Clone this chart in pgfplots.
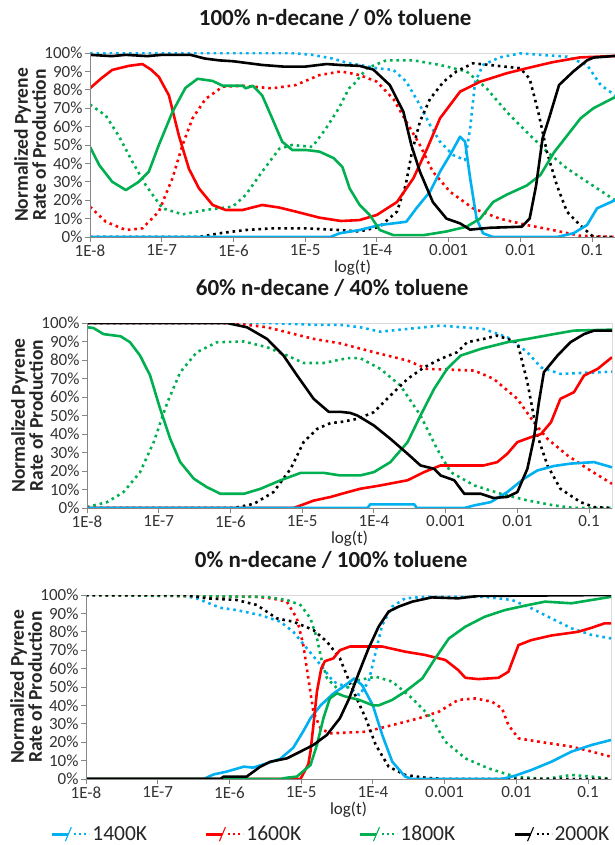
\documentclass[border=0pt]{standalone}
\usepackage{pgfplots}
\pgfplotsset{compat=1.18}
\usepackage{fontspec}
\setmainfont{Carlito}

\definecolor{c14}{RGB}{0,176,240}
\definecolor{c16}{RGB}{255,0,0}
\definecolor{c18}{RGB}{0,176,80}
\definecolor{c20}{RGB}{0,0,0}
\definecolor{axgray}{RGB}{134,134,134}
\definecolor{framegray}{RGB}{217,217,217}

\pgfplotsset{
  panel/.style={
    scale only axis, width=525pt, height=184pt,
    xmin=-8, xmax=-0.68, ymin=0, ymax=100,
    axis line style={framegray, line width=0.8pt},
    xtick={-8,-7,-6,-5,-4,-3,-2,-1},
    xticklabels={1E-8,1E-7,1E-6,1E-5,1E-4,0.001,0.01,0.1},
    ytick={0,10,20,30,40,50,60,70,80,90,100},
    yticklabels={0\%,10\%,20\%,30\%,40\%,50\%,60\%,70\%,80\%,90\%,100\%},
    xtick pos=lower, ytick pos=left,
    tick align=outside, major tick length=5pt,
    tick style={axgray, line width=0.8pt},
    tick label style={font=\fontsize{17}{17}\selectfont, text=black!80},
    xticklabel style={yshift=1pt},
    yticklabel style={xshift=1pt},
    ylabel={Normalized Pyrene\\Rate of Production},
    ylabel style={align=center, font=\bfseries\fontsize{19.5}{18}\selectfont,
      text=black!85, at={(axis description cs:-0.114,0.5)}, anchor=center},
    xlabel={log(t)},
    xlabel style={font=\fontsize{17}{17}\selectfont, text=black!85,
      at={(axis description cs:0.5,0)}, anchor=center, yshift=-31pt},
    title style={font=\bfseries\fontsize{23}{23}\selectfont, text=black!90,
      at={(axis description cs:0.467,1)}, anchor=center, yshift=29pt},
    after end axis/.code={
      \draw[axgray, line width=0.9pt] (rel axis cs:0,1) -- (rel axis cs:0,0) -- (rel axis cs:1,0);
    },
  },
  sol/.style={line width=2.6pt, line join=round, solid},
  dot/.style={line width=2.6pt, line join=round, dash pattern=on 2.6pt off 3.9pt},
}

\begin{document}
\begin{tikzpicture}
\useasboundingbox (0,0) rectangle (614pt,-845pt);

% ---------------- 100% n-decane / 0% toluene ----------------
\begin{axis}[panel, at={(90pt,-237pt)}, anchor=south west,
  title={100\% n-decane / 0\% toluene}]
\addplot[c14, dot] coordinates {(-8,100)(-5.2,100)(-4.9,99)(-4.62,97)(-4.39,94.4)(-4.24,93.5)(-4.0,91.7)(-3.77,90.8)(-3.59,84.4)(-3.40,71.7)(-3.26,60.9)(-3.12,51.8)(-2.94,44.6)(-2.77,41.8)(-2.70,59)(-2.63,84.4)(-2.52,93.5)(-2.29,97.6)(-2.0,99.8)(-1.72,99)(-1.35,98)(-1.07,93.5)(-0.88,82.6)(-0.68,77)};
\addplot[c16, dot] coordinates {(-8,16.5)(-7.78,8.3)(-7.50,3.8)(-7.27,4.7)(-7.04,13.8)(-6.85,32)(-6.71,50)(-6.57,64.5)(-6.39,75)(-6.15,81.7)(-5.87,82.2)(-5.46,80.8)(-5.13,82.6)(-4.80,88)(-4.5,90)(-4.24,88)(-4.0,84.4)(-3.77,75)(-3.59,62.7)(-3.40,50)(-3.22,35.5)(-2.98,24.6)(-2.66,15.6)(-2.29,10)(-1.91,6.5)(-1.55,3.8)(-1.17,0.7)(-0.68,0)};
\addplot[c18, dot] coordinates {(-8,72)(-7.78,66)(-7.60,55)(-7.41,41)(-7.22,28)(-6.99,15.6)(-6.71,12.3)(-6.39,14.7)(-6.01,16.5)(-5.83,22.8)(-5.60,35.5)(-5.36,48)(-5.18,50)(-4.90,49)(-4.71,59)(-4.53,70)(-4.39,80.8)(-4.33,82.6)(-4.14,91.7)(-3.87,96)(-3.49,96)(-3.12,93.5)(-2.75,90)(-2.47,80.8)(-2.19,68)(-1.91,57)(-1.63,46.4)(-1.35,37.3)(-1.07,30)(-0.68,20)};
\addplot[c20, dot] coordinates {(-8,0)(-6.48,0)(-6.20,2)(-5.83,3.8)(-5.46,4.7)(-4.99,4.7)(-4.53,3.8)(-4.24,3)(-3.96,5.6)(-3.72,13.8)(-3.60,28)(-3.51,46.4)(-3.40,62.7)(-3.26,75)(-3.07,84.4)(-2.89,90)(-2.66,94.4)(-2.43,93.5)(-2.0,91.7)(-1.87,86)(-1.75,68)(-1.63,46.4)(-1.49,28)(-1.35,13.8)(-1.17,6.5)(-0.98,0)(-0.68,0)};
\addplot[c14, sol] coordinates {(-8,0)(-4.65,0)(-4.52,2)(-4.24,3.8)(-3.96,6.5)(-3.77,7.4)(-3.59,8.3)(-3.45,15.6)(-3.26,24.6)(-3.12,35.5)(-2.98,44.6)(-2.84,54.5)(-2.77,51.8)(-2.70,32)(-2.61,10)(-2.52,2)(-2.38,0)(-1.49,0)(-1.26,2)(-1.07,6.5)(-0.93,15.6)(-0.68,20)};
\addplot[c16, sol] coordinates {(-8,80.8)(-7.85,86)(-7.69,90.8)(-7.46,93)(-7.27,94)(-7.15,91)(-7.04,87)(-6.90,77)(-6.76,55)(-6.62,37)(-6.48,26.4)(-6.29,17.4)(-6.11,14.7)(-5.87,14.7)(-5.60,17.4)(-5.36,16)(-5.13,13.8)(-4.80,10.5)(-4.5,8.7)(-4.24,9.2)(-4.0,12)(-3.72,19)(-3.49,32)(-3.30,48)(-3.12,64.5)(-2.84,79)(-2.56,84.4)(-2.19,89)(-1.91,91.7)(-1.55,95)(-1.17,97.6)(-0.68,98.4)};
\addplot[c18, sol] coordinates {(-8,49)(-7.87,39)(-7.69,30)(-7.50,25.5)(-7.32,30)(-7.18,35.5)(-7.04,50)(-6.85,68)(-6.67,81)(-6.50,86)(-6.29,84.8)(-6.15,82.2)(-5.87,82.2)(-5.83,80.8)(-5.73,82.2)(-5.60,77)(-5.46,64.5)(-5.32,51.8)(-5.18,47.3)(-4.99,47.3)(-4.80,46.4)(-4.60,42.8)(-4.48,38)(-4.38,26.4)(-4.24,17.4)(-4.10,12)(-3.96,3.8)(-3.77,1)(-3.35,1)(-3.03,3)(-2.75,5.6)(-2.56,10)(-2.38,19)(-2.19,23)(-1.91,28)(-1.72,33.7)(-1.53,46)(-1.35,55)(-1.16,64.5)(-0.98,70)(-0.68,76)};
\addplot[c20, sol] coordinates {(-8,99)(-7.7,98.3)(-7.5,99)(-7.2,98.3)(-7.0,99)(-6.6,99)(-6.4,97)(-6.2,96)(-6.0,95.5)(-5.6,93.5)(-5.3,92.6)(-5.0,92.6)(-4.7,94)(-4.52,93.5)(-4.24,93)(-4.05,91)(-3.82,82.6)(-3.63,68)(-3.52,50)(-3.40,35.5)(-3.22,19)(-3.03,10)(-2.84,7.4)(-2.70,4)(-2.43,5)(-1.98,5.6)(-1.87,10)(-1.78,28)(-1.69,53.6)(-1.60,64.5)(-1.46,82.6)(-1.26,90)(-1.07,96)(-0.98,97.5)(-0.68,98.4)};
\end{axis}

% ---------------- 60% n-decane / 40% toluene ----------------
\begin{axis}[panel, at={(87pt,-508pt)}, anchor=south west, height=185pt,
  title={60\% n-decane / 40\% toluene}]
\addplot[c14, dot] coordinates {(-8,100)(-5.5,100)(-4.8,99)(-4.47,99)(-4.19,97.7)(-3.91,95.3)(-3.53,96.8)(-3.07,98.6)(-2.47,96.8)(-2.14,92.3)(-1.86,84.2)(-1.67,76)(-1.40,72.5)(-0.68,73.7)};
\addplot[c16, dot] coordinates {(-8,100)(-6.05,100)(-5.77,99)(-5.49,97.7)(-5.21,95)(-4.84,91.4)(-4.47,89)(-4.0,84.2)(-3.53,79.7)(-3.26,75.2)(-2.60,74.3)(-2.33,69.8)(-2.0,59)(-1.77,46.4)(-1.58,37.4)(-1.30,28.4)(-1.02,21.2)(-0.68,13.1)};
\addplot[c18, dot] coordinates {(-8,0.5)(-7.72,3.2)(-7.49,8.6)(-7.26,19.4)(-7.07,35.6)(-6.88,57)(-6.70,73.4)(-6.47,84.2)(-6.19,89.6)(-5.81,90)(-5.49,86.9)(-5.21,82.4)(-4.98,78.4)(-4.70,78.4)(-4.37,81)(-4.19,81)(-3.91,75.2)(-3.63,66.2)(-3.35,50)(-3.12,32)(-2.93,19.4)(-2.60,12.2)(-2.23,7.7)(-1.86,4.1)(-1.49,1.4)(-1.21,0)(-0.68,0)};
\addplot[c20, dot] coordinates {(-8,0)(-5.95,0)(-5.67,2.3)(-5.40,8.6)(-5.16,21.2)(-4.98,35.6)(-4.79,42.8)(-4.60,46)(-4.47,46.4)(-4.23,48.2)(-4.0,51.8)(-3.77,60.8)(-3.53,69.8)(-3.30,76)(-3.07,80.6)(-2.84,84.2)(-2.70,89.6)(-2.47,91.4)(-2.28,93.2)(-2.0,89.6)(-1.86,68)(-1.72,39.2)(-1.58,23)(-1.40,10.4)(-1.12,3.2)(-0.93,0.5)(-0.68,0)};
\addplot[c16, sol] coordinates {(-8,0)(-5.12,0)(-5.02,1.4)(-4.84,4)(-4.60,6)(-4.40,8.2)(-4.19,10.4)(-3.91,12.2)(-3.53,15)(-3.30,19.4)(-3.07,23)(-2.47,23)(-2.28,24.8)(-2.14,29.3)(-2.0,35.6)(-1.81,38.3)(-1.67,40)(-1.53,46.4)(-1.40,59)(-1.21,62.6)(-1.07,71.6)(-0.88,75.2)(-0.68,81.5)};
\addplot[c14, sol] coordinates {(-8,0)(-4.09,0)(-4.05,2)(-3.44,2)(-3.40,0)(-2.74,0)(-2.60,1.4)(-2.37,3.2)(-2.14,8.6)(-1.91,15.8)(-1.72,20.3)(-1.49,22.7)(-1.26,24)(-0.93,24.8)(-0.68,22)};
\addplot[c18, sol] coordinates {(-8,97.7)(-7.91,97.3)(-7.77,94)(-7.53,92.8)(-7.40,89.6)(-7.26,82.4)(-7.12,71.6)(-6.98,53.6)(-6.84,37.4)(-6.70,24.8)(-6.51,15.8)(-6.33,11.3)(-6.14,7.7)(-5.81,7.7)(-5.58,10.4)(-5.30,15)(-5.02,19)(-4.70,19)(-4.47,17.6)(-4.19,17.6)(-4.0,19.4)(-3.77,24.8)(-3.53,35.6)(-3.35,50)(-3.16,64.4)(-2.98,75.2)(-2.79,82.4)(-2.51,86)(-2.14,89.6)(-1.86,91.4)(-1.49,94)(-1.21,95.9)(-0.68,96.4)};
\addplot[c20, sol] coordinates {(-8,100)(-6.05,100)(-5.77,97.7)(-5.49,91.4)(-5.26,82.4)(-5.07,71.6)(-4.84,59)(-4.63,52)(-4.47,52)(-4.33,51.4)(-4.23,50)(-4.0,44.6)(-3.77,37.4)(-3.53,29.3)(-3.35,23)(-3.16,21.2)(-3.07,17.6)(-2.88,15)(-2.74,7.7)(-2.51,7.7)(-2.33,5.4)(-2.14,6)(-2.0,8.6)(-1.86,21.2)(-1.77,37.4)(-1.70,57)(-1.63,73.4)(-1.44,82.4)(-1.26,89.6)(-1.07,94)(-0.93,95.9)(-0.68,95.9)};
\end{axis}

% ---------------- 0% n-decane / 100% toluene ----------------
\begin{axis}[panel, at={(86pt,-779pt)}, anchor=south west,
  title={0\% n-decane / 100\% toluene},
  legend columns=4,
  legend style={draw=none, fill=none, at={(axis description cs:0.467,-0.30)}, anchor=center,
    font=\fontsize{21.5}{21.5}\selectfont, text=black!85, inner sep=1pt,
    /tikz/every even column/.append style={column sep=56pt}},
  legend cell align=left,
  legend image code/.code={
    \draw[#1, solid] (0pt,0pt) -- (16pt,0pt);
    \draw[#1, solid, line width=1.1pt] (13pt,-7pt) -- (19pt,7pt);
    \draw[#1, line width=2pt, dash pattern=on 2pt off 3pt] (22pt,0pt) -- (37pt,0pt);
  }]
\addplot[c14, dot, forget plot] coordinates {(-8,100)(-6.69,100)(-6.46,98.2)(-6.13,93.1)(-5.90,91.8)(-5.57,89.1)(-5.29,85.5)(-5.11,80)(-4.92,71)(-4.73,62)(-4.55,52.9)(-4.32,49.3)(-4.19,45.6)(-4.06,52.9)(-3.96,69.2)(-3.87,83.7)(-3.73,93.7)(-3.55,98.2)(-3.27,99)(-2.44,99)(-2.06,97.3)(-1.79,92.8)(-1.51,87.3)(-1.23,81.9)(-0.95,78.3)(-0.68,76.4)};
\addplot[c16, dot, forget plot] coordinates {(-8,100)(-5.6,99)(-5.39,98)(-5.20,96.4)(-5.06,87.3)(-4.97,72.8)(-4.90,54.7)(-4.83,36.6)(-4.73,27.5)(-4.60,24.8)(-4.10,25.7)(-3.73,29.3)(-3.36,33)(-3.08,36.6)(-2.81,43)(-2.57,43.8)(-2.34,42)(-2.20,38.4)(-2.11,29.3)(-1.97,22.1)(-1.69,20.3)(-1.23,17.6)(-0.95,14.9)(-0.68,12.1)};
\addplot[c18, dot, forget plot] coordinates {(-8,100)(-5.5,99)(-5.20,97.3)(-5.01,94.6)(-4.87,87.3)(-4.78,76.4)(-4.71,63.8)(-4.64,54.7)(-4.50,49.3)(-4.32,50)(-4.19,53.8)(-3.96,55.6)(-3.73,52.9)(-3.45,43.8)(-3.18,33)(-2.99,20.3)(-2.71,11.2)(-2.39,5.8)(-2.02,1.3)(-1.60,0)(-1.23,2.2)(-0.95,1.3)(-0.68,0)};
\addplot[c20, dot, forget plot] coordinates {(-8,100)(-6.6,100)(-6.32,98.2)(-5.90,97.3)(-5.62,94.6)(-5.34,87.3)(-5.11,85.5)(-4.83,81)(-4.64,74.6)(-4.46,65.6)(-4.29,49.3)(-4.10,33)(-3.96,18.5)(-3.78,6.7)(-3.55,2.2)(-3.27,0.7)(-3.0,0)(-0.68,0)};
\addplot[c14, sol] coordinates {(-8,0)(-6.36,0)(-6.22,2.5)(-6.04,4)(-5.80,6.7)(-5.67,6.2)(-5.48,8.5)(-5.29,11)(-5.11,17)(-4.97,26)(-4.87,33)(-4.73,40)(-4.55,46.5)(-4.40,50.5)(-4.26,54.7)(-4.15,51)(-4.0,40)(-3.87,24)(-3.73,9.4)(-3.55,1.3)(-3.45,0)(-2.20,0)(-2.02,1.8)(-1.79,4.9)(-1.51,9.4)(-1.23,14.9)(-0.95,18.5)(-0.68,21.2)};
\addlegendentry{1400K}
\addplot[c16, sol] coordinates {(-8,0)(-5.01,0)(-4.90,8)(-4.87,15)(-4.83,29)(-4.78,47.5)(-4.72,60)(-4.67,64)(-4.55,65.6)(-4.46,70)(-4.32,72)(-4.19,72)(-3.87,72)(-3.55,69.2)(-3.27,67.4)(-2.99,64.7)(-2.81,59.2)(-2.71,55)(-2.53,54.3)(-2.25,55)(-2.11,58.3)(-1.97,72.8)(-1.79,75.5)(-1.51,78)(-1.14,80)(-0.95,82.2)(-0.77,84.6)(-0.68,84.6)};
\addlegendentry{1600K}
\addplot[c18, sol] coordinates {(-8,0)(-5.29,0)(-5.20,0.7)(-5.06,1.3)(-4.87,7.6)(-4.78,18.5)(-4.69,33)(-4.60,43.8)(-4.50,46.6)(-4.40,45)(-4.19,43)(-4.0,40)(-3.92,40)(-3.73,43)(-3.55,47.5)(-3.31,54.7)(-3.13,65.6)(-2.94,76.4)(-2.71,82.8)(-2.44,88.2)(-2.16,91.8)(-1.88,94.2)(-1.60,96.4)(-1.23,95.5)(-0.95,97.3)(-0.68,99)};
\addlegendentry{1800K}
\addplot[c20, sol] coordinates {(-8,0)(-6.13,0)(-6.08,1.3)(-5.76,1.3)(-5.57,6.7)(-5.43,9.4)(-5.20,11.2)(-5.01,14.9)(-4.83,18.5)(-4.64,24)(-4.46,33)(-4.33,43.8)(-4.19,58.3)(-4.06,71)(-3.92,82.8)(-3.78,91)(-3.64,93.7)(-3.45,96.4)(-3.18,98.7)(-2.81,98.2)(-2.53,99.5)(-0.68,100)};
\addlegendentry{2000K}
\end{axis}
\end{tikzpicture}
\end{document}
